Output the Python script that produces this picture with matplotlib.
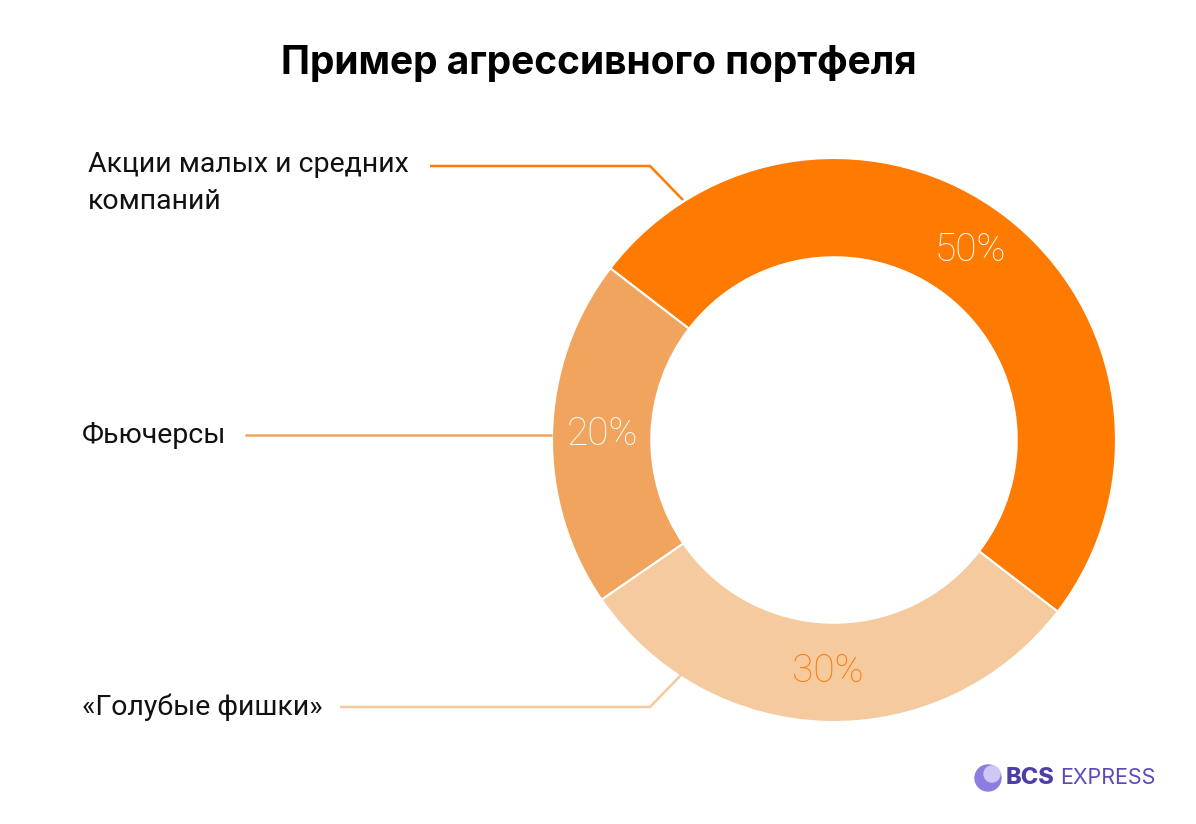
import matplotlib.pyplot as plt
from matplotlib.patches import Circle

# data
categories = ['Акции малых и средних\nкомпаний', 'Фьючерсы', '«Голубые фишки»']
values = [50, 20, 30]
colors = ['#FF7A00', '#F0A45E', '#F5CA9F']
pct_colors = ['white', 'white', '#FF7A00']

W, H = 1196, 824
fig = plt.figure(figsize=(W / 100, H / 100), dpi=100)
ax = fig.add_axes([0, 0, 1, 1])

cx, cy, R = 834, H - 440, 282
wedges, texts, autotexts = ax.pie(
    values, colors=colors, startangle=-37.5, counterclock=True,
    center=(cx, cy), radius=R, autopct='%d%%', pctdistance=0.82,
    wedgeprops=dict(width=R * 0.352, edgecolor='white', linewidth=1.5),
    textprops=dict(fontsize=28, family='Roboto', fontweight='light'))
for t, c in zip(autotexts, pct_colors):
    t.set_color(c)
autotexts[0].set_position((970, H - 250))

ax.set_xlim(0, W)
ax.set_ylim(0, H)
ax.set_aspect('equal')
ax.axis('off')

# leader lines and labels
leaders = [
    [(430, 166), (650, 166), (683, 200)],
    [(245, 435), (552, 435)],
    [(340, 707), (650, 707), (683, 673)],
]
label_pos = [(88, 183), (82, 435), (82, 707)]
for pts, c, lab, (lx, ly) in zip(leaders, colors, categories, label_pos):
    xs = [p[0] for p in pts]
    ys = [H - p[1] for p in pts]
    ax.plot(xs, ys, color=c, lw=1.8, solid_capstyle='butt')
    ax.text(lx, H - ly, lab, fontsize=20.5, family='Roboto', color='#111111',
            ha='left', va='center', linespacing=1.45)

ax.text(599, H - 63, 'Пример агрессивного портфеля', fontsize=28,
        family='Inter', fontweight='bold', ha='center', va='center', color='black')

# logo
ax.add_patch(Circle((988, H - 778), 13, color='#8B7EE0', zorder=3))
ax.add_patch(Circle((992, H - 774), 8, color='#CFC8F7', zorder=4))
ax.text(1006, H - 778, 'BCS', fontsize=17, family='Inter', fontweight='heavy',
        color='#4E3FA6', ha='left', va='center')
ax.text(1060, H - 778, 'EXPRESS', fontsize=15.5, family='Inter',
        color='#5B4BB8', ha='left', va='center')

fig.savefig('out.png', dpi=100)
